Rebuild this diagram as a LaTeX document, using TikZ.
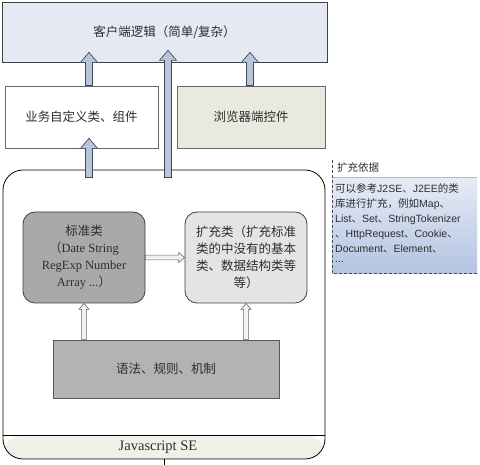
\documentclass[tikz,border=0pt]{standalone}
\usepackage{fontspec}
\setmainfont{Liberation Serif}
\setsansfont{Liberation Sans}
\newfontfamily\cjk{Noto Sans CJK SC}
\usepackage{xcolor}
\usepackage{tikz}
\usetikzlibrary{calc}

\definecolor{topfill}{HTML}{E5E9F4}
\definecolor{ctrlfill}{HTML}{E9E9DF}
\definecolor{arrowfill}{HTML}{B9C5DD}
\definecolor{arrowline}{HTML}{3F4858}
\definecolor{stdfill}{HTML}{A9A9A9}
\definecolor{extfill}{HTML}{E4E4E4}
\definecolor{rulefill}{HTML}{B3B3B3}
\definecolor{sefill}{HTML}{F0F0E6}
\definecolor{hollowfill}{HTML}{F2F2F6}
\definecolor{notetop}{HTML}{E6ECF6}
\definecolor{notebot}{HTML}{B3C3E1}
\definecolor{notetopline}{HTML}{AEBBD6}
\definecolor{txt}{HTML}{2E2E2E}

\tikzset{
  arrowshape/.style n args={3}{to path={let \p1=(\tikztostart), \p2=(\tikztotarget), \p3=($(\p2)!#3!(\p1)$) in
    ($(\p1)!#1!90:(\p2)$) -- ($(\p3)!#1!90:(\p2)$) -- ($(\p3)!#2!90:(\p2)$) -- (\p2)
    -- ($(\p3)!#2!-90:(\p2)$) -- ($(\p3)!#1!-90:(\p2)$) -- ($(\p1)!#1!-90:(\p2)$) -- cycle}},
  fatarrow/.style={arrowshape={3.5pt}{8.5pt}{10pt}, draw=arrowline, fill=arrowfill, line width=0.7pt},
  hollowarrow/.style={arrowshape={2.4pt}{5pt}{6pt}, draw=black!60, fill=hollowfill, line width=0.6pt},
  box/.style={draw=#1, line width=0.8pt, inner sep=0pt, text=txt, align=center,
    font=\fontsize{12.5}{17}\selectfont},
  zh/.style={font=\cjk\fontsize{12.5}{17}\selectfont},
  note/.style={top color=notetop, bottom color=notebot, text width=139pt,
    inner xsep=3pt, inner ysep=0pt, align=left, text=txt,
    font=\sffamily\fontsize{10.5}{15}\selectfont},
  notedash/.style={draw=black!70, line width=0.6pt, dash pattern=on 3pt off 2pt}
}

\begin{document}
\begin{tikzpicture}[x=1pt, y=-1pt]
  \useasboundingbox (0,0) rectangle (480,465);

  \node[box=black!75, fill=topfill, zh, minimum width=325pt, minimum height=60pt] (top) at (164.5,32) {客户端逻辑（简单/复杂）};
  \node[box=black!60, fill=white, zh, minimum width=153pt, minimum height=62pt] (biz) at (81.5,117) {业务自定义类、组件};
  \node[box=black!60, fill=ctrlfill, zh, minimum width=148pt, minimum height=62pt] (ctrl) at (251,117) {浏览器端控件};

  % Javascript SE
  \node[box=black, rounded corners=20pt, minimum width=322pt, minimum height=289pt,
    path picture={
      \shade[top color=white, bottom color=sefill] ([yshift=24pt]path picture bounding box.south west) rectangle (path picture bounding box.south east);
      \draw[line width=0.8pt] ([yshift=24pt]path picture bounding box.south west) -- ([yshift=24pt]path picture bounding box.south east);
    }] (js) at (164,314.5) {};
  \node[text=txt, font=\fontsize{14.5}{17}\selectfont] (se) at (158,447) {Javascript SE};
  \draw[line width=0.6pt] (js.south) -- ++(0,6);

  \node[box=black!75, fill=stdfill, rounded corners=12pt, minimum width=122pt, minimum height=91pt] (std) at (84,257.5)
    {{\cjk 标准类}\\{\cjk （}Date String\\RegExp Number\\Array ...{\cjk ）}};
  \node[box=black!75, fill=extfill, rounded corners=12pt, zh, minimum width=122pt, minimum height=91pt] (ext) at (246,257.5)
    {扩充类（扩充标准\\类的中没有的基本\\类、数据结构类等\\等）};
  \node[box=black!65, fill=rulefill, zh, minimum width=226pt, minimum height=58pt] (rule) at (166,369) {语法、规则、机制};

  \draw[hollowarrow] (std.east) to (ext.west);
  \draw[hollowarrow] (rule.north -| std.south) to (std.south);
  \draw[hollowarrow] (rule.north -| ext.south) to (ext.south);

  \draw[fatarrow] ($(biz.north)+(7.5,0)$) to ($(biz.north |- top.south)+(7.5,-10)$);
  \draw[fatarrow] ($(js.north)+(4,8)$) to ($(js.north |- top.south)+(4,-12)$);
  \draw[fatarrow] ($(ctrl.north)+(-1,0)$) to ($(ctrl.north |- top.south)+(-1,-10)$);
  \draw[fatarrow] ($(biz.south |- js.north)+(7.5,8)$) to ($(biz.south)+(7.5,-10)$);

  % annotation
  \node[note, anchor=north west] (note) at (332,177)
    {\rule{0pt}{15pt}{\cjk 可以参考}J2SE{\cjk 、}J2EE{\cjk 的类}\\
     {\cjk 库进行扩充，例如}Map{\cjk 、}\\
     List{\cjk 、}Set{\cjk 、}StringTokenizer\\
     {\cjk 、}HttpRequest{\cjk 、}Cookie{\cjk 、}\\
     Document{\cjk 、}Element{\cjk 、}\\[-5pt]
     ...\rule[-11pt]{0pt}{11pt}};
  \draw[draw=notetopline, line width=0.8pt] (note.north west) -- (note.north east);
  \draw[notedash] ($(note.north west)+(0,-17)$) -- (note.south west) -- (note.south east);
  \node[anchor=south west, inner sep=2pt, text=txt, font=\cjk\fontsize{10.5}{12}\selectfont] (ttl) at ($(note.north west)+(3,-2)$) {扩充依据};
\end{tikzpicture}
\end{document}
